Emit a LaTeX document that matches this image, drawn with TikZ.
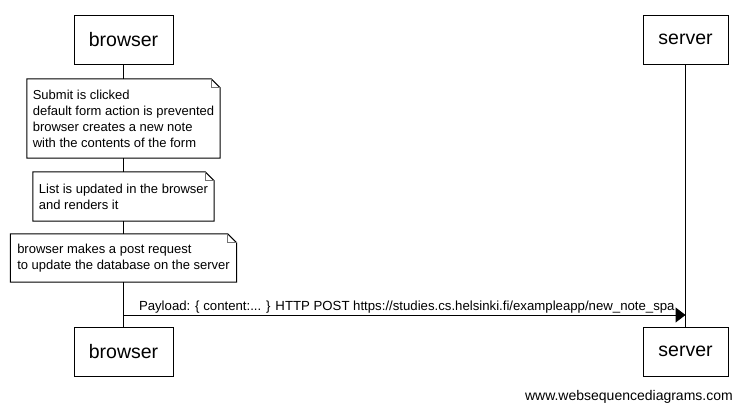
\documentclass[tikz,border=0pt]{standalone}
\usepackage{fontspec}
\setmainfont{Liberation Sans}
\usetikzlibrary{arrows.meta}
\usetikzlibrary{math}
\usetikzlibrary{positioning}

% Outline of a note with a folded top right corner
\newcommand{\NoteOutline}[1]{%
    \draw [noteline] (#1.north west) -- ([xshift=-9pt]#1.north east)
        -- ([yshift=-9pt]#1.north east) -- (#1.south east) -- (#1.south west) -- cycle;
    \draw [foldline] ([xshift=-9pt]#1.north east) |- ([yshift=-9pt]#1.north east);
}

\begin{document}
\begin{tikzpicture}[x=1pt, y=-1pt,
    actorbox/.style={draw, line width=1pt, fill=white, minimum height=49pt,
        inner sep=0pt, font=\fontsize{19.5}{22}\selectfont},
    notebox/.style={fill=white, inner sep=0pt, align=left,
        font=\fontsize{13}{16}\selectfont},
    noteline/.style={line width=1pt},
    foldline/.style={line width=0.8pt, black!55},
    lifeline/.style={line width=1pt},
    msgline/.style={line width=1pt, -{Triangle[length=10pt,width=15pt]}},
]

\useasboundingbox (0,0) rectangle (743,410);

% Position settings
\tikzmath{
    \BrowserX = 123.5;
    \ServerX = 685.5;
    \HeadY = 39.5;
    \FootY = 351.5;
    \MsgY = 315;
}

% Participants
\node [actorbox, minimum width=99pt] (BrowserTop) at (\BrowserX, \HeadY) {browser};
\node [actorbox, minimum width=85pt] (ServerTop) at (\ServerX, \HeadY) {server};
\node [actorbox, minimum width=99pt] (BrowserBottom) at (\BrowserX, \FootY) {browser};
\node [actorbox, minimum width=85pt] (ServerBottom) at (\ServerX, \FootY) {server};

% Lifelines
\draw [lifeline] (BrowserTop.south) -- (BrowserBottom.north);
\draw [lifeline] (ServerTop.south) -- (ServerBottom.north);

% Notes over the browser
\node [notebox, minimum width=193pt, minimum height=79pt] (NoteSubmit) at (\BrowserX, 118.5)
    {Submit is clicked\\default form action is prevented\\browser creates a new note\\with the contents of the form};
\node [notebox, minimum width=181pt, minimum height=49pt] (NoteList) at (\BrowserX, 196.5)
    {List is updated in the browser\\and renders it};
\node [notebox, minimum width=226pt, minimum height=48pt] (NotePost) at (\BrowserX, 258)
    {browser makes a post request\\to update the database on the server};
\NoteOutline{NoteSubmit}
\NoteOutline{NoteList}
\NoteOutline{NotePost}

% Message
\coordinate (MsgFrom) at (\BrowserX, \MsgY);
\coordinate (MsgTo) at (\ServerX, \MsgY);
\draw [msgline] (MsgFrom) -- node [pos=0, anchor=base west, inner sep=0pt, xshift=15pt, yshift=5pt,
    font=\fontsize{13.2}{16}\selectfont] (MsgLabel)
    {Payload: \{ content:... \} HTTP POST https://studies.cs.helsinki.fi/exampleapp/new\_note\_spa} (MsgTo);

% Credit
\node [anchor=base east, inner sep=0pt, font=\fontsize{14}{16}\selectfont] (Credit) at (733, 400)
    {www.websequencediagrams.com};

\end{tikzpicture}
\end{document}
